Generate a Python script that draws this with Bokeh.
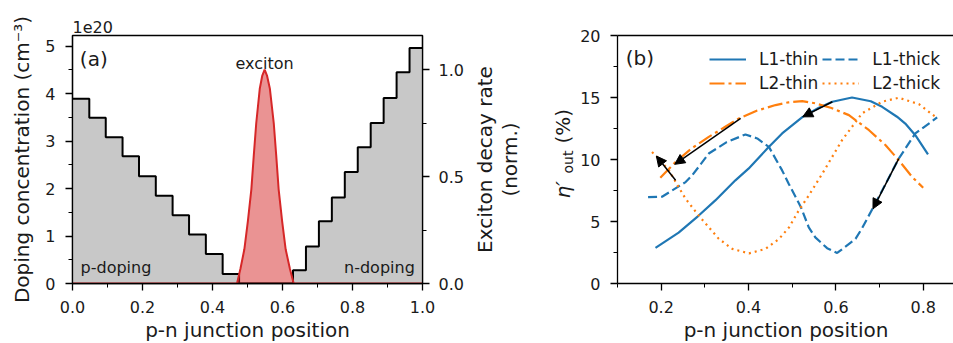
from math import pi
from bokeh.plotting import figure
from bokeh.layouts import row
from bokeh.models import (Range1d, LinearAxis, FixedTicker, Label, Legend, LegendItem,
                          Arrow, NormalHead, ColumnDataSource, NumeralTickFormatter)
from bokeh.embed import file_html
from bokeh.resources import INLINE

FONT = "DejaVu Sans"
INK = "#1a1a1a"
BLUE = "#1f77b4"
ORANGE = "#ff7f0e"
RED = "#d62728"
GREY = "#c8c8c8"

# ---------------- panel (a) data ----------------
step_edges = [0.000, 0.048, 0.095, 0.143, 0.190, 0.238, 0.286, 0.333, 0.381, 0.429, 0.476,
              0.630, 0.667, 0.704, 0.741, 0.778, 0.815, 0.852, 0.889, 0.926, 0.963, 1.000]
doping_1e20 = [3.89, 3.49, 3.08, 2.68, 2.26, 1.85, 1.44, 1.03, 0.62, 0.20, 0.00,
               0.28, 0.78, 1.31, 1.81, 2.35, 2.87, 3.38, 3.91, 4.45, 4.96]
exciton_pos = [0.000, 0.470, 0.480, 0.491, 0.501, 0.511, 0.518, 0.525, 0.535, 0.542, 0.549,
               0.556, 0.564, 0.575, 0.582, 0.589, 0.599, 0.609, 0.621, 0.632, 1.000]
exciton_rate = [0.00, 0.00, 0.07, 0.16, 0.29, 0.44, 0.60, 0.75, 0.91, 0.97, 1.00,
                0.97, 0.91, 0.75, 0.60, 0.44, 0.29, 0.16, 0.07, 0.00, 0.00]

# ---------------- panel (b) data ----------------
l1_thin_x = [0.187, 0.240, 0.286, 0.324, 0.370, 0.400, 0.443, 0.477, 0.524, 0.560, 0.592,
             0.637, 0.680, 0.706, 0.740, 0.759, 0.782, 0.811]
l1_thin_y = [2.87, 4.10, 5.48, 6.70, 8.32, 9.26, 10.88, 12.10, 13.44, 14.15, 14.66,
             15.00, 14.70, 14.25, 13.45, 12.90, 11.96, 10.42]

l1_thick_x = [0.170, 0.202, 0.256, 0.271, 0.309, 0.350, 0.393, 0.420, 0.447, 0.477, 0.492,
              0.520, 0.538, 0.553, 0.580, 0.603, 0.645, 0.660, 0.706, 0.744, 0.782, 0.832]
l1_thick_y = [6.96, 7.00, 8.18, 8.72, 10.48, 11.40, 12.02, 11.70, 11.00, 9.12, 8.05,
              6.15, 4.53, 3.72, 2.85, 2.46, 3.60, 4.45, 7.50, 10.07, 12.10, 13.39]

l2_thin_x = [0.198, 0.233, 0.270, 0.309, 0.345, 0.378, 0.420, 0.462, 0.490, 0.523, 0.553,
             0.590, 0.630, 0.676, 0.714, 0.744, 0.775, 0.800]
l2_thin_y = [8.53, 9.80, 10.90, 11.82, 12.60, 13.31, 13.95, 14.39, 14.60, 14.71, 14.53,
             14.15, 13.58, 12.36, 11.15, 9.94, 8.58, 7.72]

l2_thick_x = [0.179, 0.191, 0.218, 0.240, 0.256, 0.286, 0.332, 0.363, 0.401, 0.439, 0.470,
              0.493, 0.515, 0.538, 0.569, 0.614, 0.660, 0.706, 0.744, 0.790, 0.828]
l2_thick_y = [10.60, 10.20, 9.12, 7.77, 6.83, 5.48, 3.60, 2.79, 2.43, 2.79, 3.60,
              4.53, 5.89, 7.10, 8.86, 11.55, 13.72, 14.66, 14.98, 14.47, 13.44]

arrow_x_start = [0.382, 0.233, 0.592, 0.744]
arrow_y_start = [13.31, 8.32, 14.66, 10.07]
arrow_x_end = [0.231, 0.189, 0.524, 0.685]
arrow_y_end = [9.61, 10.28, 13.44, 6.02]

x_ticks_a = [0.0, 0.2, 0.4, 0.6, 0.8, 1.0]
x_minor_a = [0.1, 0.3, 0.5, 0.7, 0.9]
y_ticks_a = [0, 1, 2, 3, 4, 5]
y_minor_a = [0.5, 1.5, 2.5, 3.5, 4.5]
r_ticks_a = [0.0, 0.5, 1.0]
r_minor_a = [0.25, 0.75]
x_ticks_b = [0.2, 0.4, 0.6, 0.8]
x_minor_b = [0.1, 0.3, 0.5, 0.7]
y_ticks_b = [0, 5, 10, 15, 20]
y_minor_b = [2.5, 7.5, 12.5, 17.5]


def style(ax, label=None):
    ax.axis_label = label
    ax.axis_label_text_font = FONT
    ax.axis_label_text_font_size = "20px"
    ax.axis_label_text_font_style = "normal"
    ax.axis_label_text_color = INK
    ax.major_label_text_font = FONT
    ax.major_label_text_font_size = "16px"
    ax.major_label_text_color = INK
    ax.axis_line_color = "black"
    ax.axis_line_width = 1.3
    ax.major_tick_line_color = "black"
    ax.major_tick_line_width = 1.3
    ax.minor_tick_line_color = "black"
    ax.minor_tick_line_width = 1.0
    ax.major_tick_in = 0
    ax.major_tick_out = 7
    ax.minor_tick_in = 0
    ax.minor_tick_out = 4


def lab(p, x, y, text, size, align="left", baseline="alphabetic", **kw):
    p.add_layout(Label(x=x, y=y, text=text, text_font=FONT, text_font_size=size,
                       text_color=INK, text_align=align, text_baseline=baseline, **kw))


# ================= panel (a) =================
p1 = figure(frame_width=350, frame_height=248, min_border_left=72, min_border_right=45,
            min_border_top=35, min_border_bottom=60,
            x_range=Range1d(0, 1), y_range=Range1d(0, 5.225),
            output_backend="svg", toolbar_location=None)
p1.extra_y_ranges = {"rate": Range1d(0, 1.159)}
p1.grid.visible = False
p1.outline_line_color = "black"
p1.outline_line_width = 1.3
p1.outline_line_alpha = 1

# offset text "1e20" as a left aligned title
p1.title.text = "1e20"
p1.title.align = "left"
p1.title.text_font = FONT
p1.title.text_font_size = "16px"
p1.title.text_font_style = "normal"
p1.title.text_color = INK
p1.title.standoff = 5

step_y = doping_1e20 + [doping_1e20[-1]]
p1.varea_step(x=step_edges, y1=0, y2=step_y, step_mode="after", fill_color=GREY)
p1.step(x=step_edges, y=step_y, mode="after", line_color="black", line_width=2)
p1.varea(x=exciton_pos, y1=0, y2=exciton_rate, fill_color=RED, fill_alpha=0.5,
         y_range_name="rate")
p1.line(exciton_pos, exciton_rate, line_color=RED, line_width=2, y_range_name="rate")

xa = p1.xaxis[0]
style(xa, "p-n junction position")
xa.ticker = FixedTicker(ticks=x_ticks_a, minor_ticks=x_minor_a)
xa.formatter = NumeralTickFormatter(format="0.0")
xa.major_label_standoff = 10
xa.axis_label_standoff = 2

ya = p1.yaxis[0]
style(ya, "Doping concentration (cm⁻³)")
ya.ticker = FixedTicker(ticks=y_ticks_a, minor_ticks=y_minor_a)
ya.major_label_standoff = 10
ya.axis_label_standoff = 8

ra = LinearAxis(y_range_name="rate")
style(ra, None)
ra.ticker = FixedTicker(ticks=r_ticks_a, minor_ticks=r_minor_a)
ra.formatter = NumeralTickFormatter(format="0.0")
ra.major_label_standoff = 9
p1.add_layout(ra, "right")

lab(p1, 0.021, 4.74, "(a)", "20px", baseline="middle")
lab(p1, 0.549, 4.64, "exciton", "16px", align="center")
lab(p1, 0.023, 0.34, "p-doping", "16px")
lab(p1, 0.978, 0.34, "n-doping", "16px", align="right")

# ========== middle strip holding the two rotated axis titles ==========
# same frame geometry as the panels: data x = page x - 467, data y = 283 - page y
pm = figure(frame_width=110, frame_height=248, min_border_left=0, min_border_right=0,
            min_border_top=35, min_border_bottom=60,
            x_range=Range1d(0, 110), y_range=Range1d(0, 248),
            x_axis_location=None, y_axis_location=None,
            output_backend="svg", toolbar_location=None)
pm.title.visible = False
pm.outline_line_color = None
pm.grid.visible = False
lab(pm, 17, 124, "Exciton decay rate", "20px", align="center", baseline="middle",
    angle=pi / 2)
lab(pm, 42, 124, "(norm.)", "20px", align="center", baseline="middle", angle=pi / 2)
lab(pm, 95, 85, "η′", "20px", angle=pi / 2, text_font_style="italic")
lab(pm, 100, 110, "out", "14px", angle=pi / 2)
lab(pm, 95, 140, "(%)", "20px", angle=pi / 2)

# ================= panel (b) =================
p2 = figure(frame_width=337, frame_height=248, min_border_left=38, min_border_right=0,
            min_border_top=35, min_border_bottom=60,
            x_range=Range1d(0.1, 0.8717), y_range=Range1d(0, 20),
            output_backend="svg", toolbar_location=None)
p2.grid.visible = False
p2.outline_line_color = None

r_l1thin = p2.line(l1_thin_x, l1_thin_y, line_color=BLUE, line_width=2.2)
r_l1thick = p2.line(l1_thick_x, l1_thick_y, line_color=BLUE, line_width=2.2, line_dash="9 4")
r_l2thin = p2.line(l2_thin_x, l2_thin_y, line_color=ORANGE, line_width=2.2,
                   line_dash="15 4 3 4")
r_l2thick = p2.line(l2_thick_x, l2_thick_y, line_color=ORANGE, line_width=2.2,
                    line_dash="2 4")

arr_src = ColumnDataSource(dict(x0=arrow_x_start, y0=arrow_y_start,
                                x1=arrow_x_end, y1=arrow_y_end))
p2.add_layout(Arrow(source=arr_src, x_start="x0", y_start="y0", x_end="x1", y_end="y1",
                    line_color="black", line_width=1.5,
                    end=NormalHead(size=10, fill_color="black", line_color="black",
                                   line_width=1)))

xb = p2.xaxis[0]
style(xb, "p-n junction position")
xb.ticker = FixedTicker(ticks=x_ticks_b, minor_ticks=x_minor_b)
xb.formatter = NumeralTickFormatter(format="0.0")
xb.major_label_standoff = 10
xb.axis_label_standoff = 2

yb = p2.yaxis[0]
style(yb, None)
yb.ticker = FixedTicker(ticks=y_ticks_b, minor_ticks=y_minor_b)
yb.major_label_standoff = 10

top = LinearAxis(ticker=FixedTicker(ticks=[], minor_ticks=[]))
top.axis_line_color = "black"
top.axis_line_width = 1.3
top.major_label_text_font_size = "0px"
top.major_tick_out = 0
top.minor_tick_out = 0
p2.add_layout(top, "above")

legend = Legend(items=[LegendItem(label="L1-thin", renderers=[r_l1thin]),
                       LegendItem(label="L2-thin", renderers=[r_l2thin]),
                       LegendItem(label="L1-thick", renderers=[r_l1thick]),
                       LegendItem(label="L2-thick", renderers=[r_l2thick])],
                ncols=2, location=(92, 190), padding=0, margin=0, spacing=4,
                glyph_width=37, glyph_height=20, label_height=20, label_width=58,
                label_standoff=13, label_text_font=FONT, label_text_font_size="17px",
                label_text_color=INK, background_fill_alpha=0, border_line_color=None)
p2.add_layout(legend)

lab(p2, 0.119, 18.2, "(b)", "20px", baseline="middle")

layout = row(p1, pm, p2)
open("out.html", "w").write(file_html(layout, INLINE))
